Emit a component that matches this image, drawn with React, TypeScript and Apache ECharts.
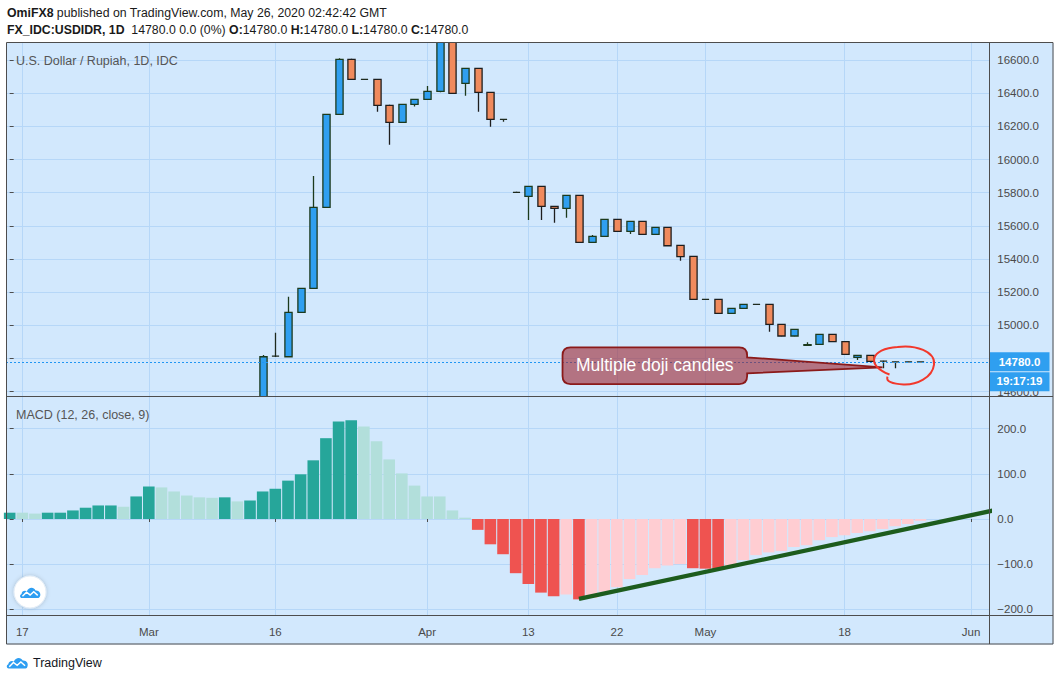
import React, { useEffect, useRef } from 'react';
import * as echarts from 'echarts';

// ---------- DATA ----------
const dates: string[] = [
  '2020-02-14', '2020-02-17', '2020-02-18', '2020-02-19', '2020-02-20', '2020-02-21',
  '2020-02-24', '2020-02-25', '2020-02-26', '2020-02-27', '2020-02-28',
  '2020-03-02', '2020-03-03', '2020-03-04', '2020-03-05', '2020-03-06',
  '2020-03-09', '2020-03-10', '2020-03-11', '2020-03-12', '2020-03-13',
  '2020-03-16', '2020-03-17', '2020-03-18', '2020-03-19', '2020-03-20',
  '2020-03-23', '2020-03-24', '2020-03-25', '2020-03-26', '2020-03-27',
  '2020-03-30', '2020-03-31', '2020-04-01', '2020-04-02', '2020-04-03',
  '2020-04-06', '2020-04-07', '2020-04-08', '2020-04-09', '2020-04-10',
  '2020-04-13', '2020-04-14', '2020-04-15', '2020-04-16', '2020-04-17',
  '2020-04-20', '2020-04-21', '2020-04-22', '2020-04-23', '2020-04-24',
  '2020-04-27', '2020-04-28', '2020-04-29', '2020-04-30', '2020-05-01',
  '2020-05-04', '2020-05-05', '2020-05-06', '2020-05-07', '2020-05-08',
  '2020-05-11', '2020-05-12', '2020-05-13', '2020-05-14', '2020-05-15',
  '2020-05-18', '2020-05-19', '2020-05-20', '2020-05-21', '2020-05-22',
  '2020-05-25', '2020-05-26', '2020-05-27', '2020-05-28', '2020-05-29',
  '2020-06-01', '2020-06-02',
];

const N = null;
// candles before 2020-03-13 lie below the visible price range
const opens: (number | null)[] = [
  N, N, N, N, N, N, N, N, N, N, N, N, N, N, N, N, N, N, N, N,
  14350, 14815, 14811, 15078, 15223, 15712, 16272, 16604, 16483, 16483,
  16327, 16224, 16333, 16363, 16411, 16850, 16459, 16550, 16405, 16242,
  15802, 15778, 15838, 15718, 15706, 15784, 15501, 15537, 15639, 15567,
  15627, 15549, 15591, 15482, 15416, 15157, 15157, 15072, 15103, 15127,
  15127, 15006, 14936, 14880, 14886, 14946, 14902, 14807, 14819, 14785,
  14780, 14780, 14780,
];
const closes: (number | null)[] = [
  N, N, N, N, N, N, N, N, N, N, N, N, N, N, N, N, N, N, N, N,
  14811, 14815, 15078, 15223, 15712, 16272, 16604, 16483, 16483, 16327,
  16224, 16333, 16363, 16411, 16850, 16399, 16550, 16405, 16242, 16242,
  15802, 15838, 15718, 15706, 15784, 15501, 15537, 15639, 15567, 15627,
  15549, 15591, 15480, 15414, 15157, 15157, 15072, 15103, 15127, 15127,
  15006, 14936, 14976, 14884, 14946, 14902, 14825, 14819, 14783, 14785,
  14780, 14780, 14780,
];
const highs: (number | null)[] = [
  N, N, N, N, N, N, N, N, N, N, N, N, N, N, N, N, N, N, N, N,
  14821, 14956, 15173, 15225, 15900, 16275, 16610, 16608, 16485, 16485,
  16330, 16335, 16365, 16443, 16900, 16900, 16552, 16552, 16407, 16245,
  15805, 15840, 15840, 15720, 15786, 15786, 15545, 15641, 15641, 15629,
  15629, 15593, 15593, 15484, 15418, 15158, 15158, 15104, 15128, 15128,
  15129, 15008, 14978, 14898, 14948, 14948, 14904, 14821, 14821, 14786,
  14781, 14781, 14780,
];
const lows: (number | null)[] = [
  N, N, N, N, N, N, N, N, N, N, N, N, N, N, N, N, N, N, N, N,
  14330, 14810, 14811, 15075, 15223, 15710, 16270, 16480, 16480, 16288,
  16089, 16222, 16319, 16360, 16405, 16395, 16385, 16288, 16198, 16228,
  15800, 15635, 15635, 15619, 15649, 15499, 15499, 15535, 15565, 15551,
  15547, 15547, 15478, 15390, 15155, 15156, 15070, 15070, 15102, 15126,
  14962, 14934, 14935, 14878, 14885, 14900, 14823, 14791, 14781, 14741,
  14741, 14779, 14780,
];

// MACD (12, 26, close, 9) histogram
const macdHist: number[] = [
  14, 14, 12, 14, 14, 19, 25, 30, 30, 27,
  50, 72, 70, 61, 52, 48, 47, 48, 39, 41,
  61, 67, 85, 99, 130, 179, 216, 219, 205, 172,
  132, 101, 74, 50, 50, 19, 3, -24, -56, -78,
  -120, -144, -163, -171, -167, -178, -175, -161, -151, -133,
  -124, -109, -103, -100, -109, -110, -111, -103, -91, -80,
  -74, -71, -62, -58, -47, -40, -36, -31, -27, -22,
  -16, -11, -4,
];
// D = rising above zero, L = falling above zero, R = falling below zero, P = rising below zero
const macdCodes = 'DLLDDDDDDLDDLLLLLDLDDDDDDDDDLLLLLLLLLRRRRRRRPRPPPPPPPPRRRPPPPPPPPPPPPPPPP';

const tickDates = ['2020-02-17', '2020-03-02', '2020-03-16', '2020-04-01', '2020-04-13', '2020-04-22', '2020-05-01', '2020-05-18', '2020-06-01'];
const tickLabels = ['17', 'Mar', '16', 'Apr', '13', '22', 'May', '18', 'Jun'];
const priceTicks = [14600, 14800, 15000, 15200, 15400, 15600, 15800, 16000, 16200, 16400, 16600];
const macdTicks = [-200, -100, 0, 100, 200];

const lastPrice = 14780;
const countdown = '19:17:19';
const trendStart = { date: '2020-04-17', value: -177 };
const trendEnd = { date: '2020-05-26', value: -15.5 };
const calloutTarget = { date: '2020-05-21', price: 14747 };
const dojiDates = ['2020-05-21', '2020-05-26'];
const dojiCirclePrice = 14758;

// ---------- STYLE ----------
const FONT = '"Liberation Sans", Arial, sans-serif';
const BG = '#d2e8fd';
const GRID_C = '#b6d7f8';
const FRAME = '#4d4d4d';
const AX_TXT = '#4a4a4a';
const UP = '#2f9ff0';
const DOWN = '#f08a5d';
const UP_BORDER = '#1c3a1c';
const DOWN_BORDER = '#1e1e1e';
const DOJI_BORDER = '#1e2a1e';
const histPalette: Record<string, string> = { D: '#26a69a', L: '#b2dfdb', R: '#ef5350', P: '#ffcdd2' };
const X_MIN = -0.29;
const X_MAX = 77.44;

echarts.graphic.registerShape(
  'tvCloud',
  echarts.graphic.extendPath('M3 14C0.5 14 0 10.5 2.5 9.5C2.5 6.5 6 5 8.5 6.5C10 2 16 1 18 5.5C22 5 24.5 9 23 12C22.5 13.5 21.5 14 20 14Z', {})
);
echarts.graphic.registerShape(
  'doodle',
  echarts.graphic.extendPath('M-12 9C-36 0 -31 -17 -4 -18.5C14 -21 34 -14 32.5 -1C31 12 15 19.5 2 19C-9 18.5 -16 16 -14 11', {})
);

function txt(x: number, y: number, text: string, o: any = {}) {
  return {
    type: 'text',
    x,
    y,
    z: o.z ?? 30,
    silent: true,
    style: {
      text,
      fill: o.fill ?? '#222',
      fontSize: o.fontSize ?? 12,
      fontFamily: FONT,
      fontWeight: o.fontWeight ?? 'normal',
      lineHeight: o.lineHeight,
      align: o.align ?? 'left',
      verticalAlign: 'middle',
      textAlign: o.align ?? 'left',
      textVerticalAlign: 'middle',
      rich: o.rich,
    },
  };
}

function renderCandle(params: any, api: any) {
  const x = api.value(0);
  const o = api.value(1);
  const c = api.value(2);
  const l = api.value(3);
  const h = api.value(4);
  const pO = api.coord([x, o]);
  const pC = api.coord([x, c]);
  const pL = api.coord([x, l]);
  const pH = api.coord([x, h]);
  const band = api.coord([x + 0.5, o])[0] - api.coord([x - 0.5, o])[0];
  const w = band * 0.57;
  const cx = Math.round(pO[0]) + 0.5;
  const up = c > o;
  const doji = c === o;
  const top = Math.min(pO[1], pC[1]);
  const bot = Math.max(pO[1], pC[1]);
  const stroke = doji ? DOJI_BORDER : up ? UP_BORDER : DOWN_BORDER;
  return {
    type: 'group',
    children: [
      { type: 'line', shape: { x1: cx, y1: pH[1], x2: cx, y2: top }, style: { stroke, lineWidth: 1.3 } },
      { type: 'line', shape: { x1: cx, y1: bot, x2: cx, y2: pL[1] }, style: { stroke, lineWidth: 1.3 } },
      {
        type: 'rect',
        shape: { x: cx - w / 2, y: top, width: w, height: bot - top },
        style: { fill: up ? UP : DOWN, stroke, lineWidth: 1.3 },
      },
    ],
  };
}

export default function App() {
  const ref = useRef<HTMLDivElement>(null);

  useEffect(() => {
    const chart = echarts.init(ref.current!, null, { renderer: 'svg' });
    const idxOf = (d: string) => dates.indexOf(d);
    const tickIdx = tickDates.map(idxOf);
    const labelMap: Record<number, string> = {};
    tickIdx.forEach((i, k) => (labelMap[i] = tickLabels[k]));
    // price labels hidden behind the last-price tag are not drawn (as on the platform)
    const priceLabelTicks = priceTicks.filter((v) => Math.abs(v - lastPrice) > 60);

    const candleData: number[][] = [];
    opens.forEach((o, i) => {
      if (o != null) candleData.push([i, o, closes[i] as number, lows[i] as number, highs[i] as number]);
    });
    const histData = macdHist.map((v, i) => ({ value: [i, v], itemStyle: { color: histPalette[macdCodes[i]] } }));
    const t0 = [idxOf(trendStart.date), trendStart.value];
    const t1 = [idxOf(trendEnd.date), trendEnd.value];
    const slope = (t1[1] - t0[1]) / (t1[0] - t0[0]);
    const tx = X_MAX + 1;
    const trendData = [t0, [tx, t0[1] + slope * (tx - t0[0])]];

    const xAxisBase = (gridIndex: number, showLabels: boolean) => ({
      type: 'value',
      gridIndex,
      min: X_MIN,
      max: X_MAX,
      axisLine: { show: false },
      axisTick: { show: showLabels, length: 3, customValues: tickIdx, lineStyle: { color: FRAME } },
      axisLabel: {
        show: showLabels,
        customValues: tickIdx,
        formatter: (v: number) => labelMap[Math.round(v)] ?? '',
        color: AX_TXT,
        fontSize: 11.5,
        fontFamily: FONT,
        margin: 11,
      },
      splitLine: { show: true, lineStyle: { color: GRID_C, width: 1 } },
    });

    chart.setOption({
      animation: false,
      textStyle: { fontFamily: FONT },
      grid: [
        { left: 6, top: 43, width: 983.3, height: 353.7, outerBoundsMode: 'none', containLabel: false },
        { left: 6, top: 396.7, width: 983.3, height: 218.3, outerBoundsMode: 'none', containLabel: false },
      ],
      xAxis: [xAxisBase(0, false), xAxisBase(1, true)],
      yAxis: [
        {
          type: 'value',
          gridIndex: 0,
          position: 'right',
          min: 14570,
          max: 16702.5,
          axisLine: { show: false },
          axisTick: { show: true, length: 4, customValues: priceTicks, lineStyle: { color: FRAME } },
          axisLabel: {
            customValues: priceLabelTicks,
            formatter: (v: number) => v.toFixed(1),
            color: AX_TXT,
            fontSize: 11.5,
            lineHeight: 10,
            fontFamily: FONT,
            margin: 8,
          },
          splitLine: { show: true, lineStyle: { color: GRID_C, width: 1 } },
        },
        {
          type: 'value',
          gridIndex: 1,
          position: 'right',
          min: -212.6,
          max: 270.9,
          axisLine: { show: false },
          axisTick: { show: true, length: 4, customValues: macdTicks, lineStyle: { color: FRAME } },
          axisLabel: {
            customValues: macdTicks,
            formatter: (v: number) => (v < 0 ? '\u2212' + Math.abs(v).toFixed(1) : v.toFixed(1)),
            color: AX_TXT,
            fontSize: 11.5,
            fontFamily: FONT,
            margin: 8,
          },
          splitLine: { show: true, lineStyle: { color: GRID_C, width: 1 } },
        },
      ],
      series: [
        {
          type: 'custom',
          name: 'USD/IDR',
          xAxisIndex: 0,
          yAxisIndex: 0,
          data: candleData,
          encode: { x: 0, y: [1, 2, 3, 4] },
          renderItem: renderCandle,
          clip: true,
          z: 3,
        },
        {
          type: 'line',
          xAxisIndex: 0,
          yAxisIndex: 0,
          data: [],
          symbol: 'none',
          z: 4,
          markLine: {
            silent: true,
            animation: false,
            symbol: ['none', 'none'],
            data: [{ yAxis: lastPrice }],
            lineStyle: { color: '#2196f3', type: [2, 2], width: 1 },
            label: { show: false },
          },
        },
        {
          type: 'bar',
          xAxisIndex: 1,
          yAxisIndex: 1,
          data: histData,
          barWidth: 11.6,
          clip: true,
        },
        {
          type: 'line',
          xAxisIndex: 1,
          yAxisIndex: 1,
          data: trendData,
          symbol: 'none',
          clip: true,
          z: 5,
          lineStyle: { color: '#1d5c1d', width: 4.2, cap: 'butt' },
        },
      ],
    });

    const py = (chart.convertToPixel({ gridIndex: 0 }, [0, lastPrice]) as number[])[1];
    const tip = chart.convertToPixel({ gridIndex: 0 }, [idxOf(calloutTarget.date), calloutTarget.price]) as number[];
    const dc = chart.convertToPixel(
      { gridIndex: 0 },
      [(idxOf(dojiDates[0]) + idxOf(dojiDates[1])) / 2, dojiCirclePrice]
    ) as number[];

    const L = tip[0] - 320, R = tip[0] - 135.4, T = tip[1] - 20, B = tip[1] + 16.7, r = 8;
    const pT = tip[1] - 10, pB = tip[1] + 6;
    const d = `M${L + r} ${T}H${R - r}Q${R} ${T} ${R} ${T + r}V${pT}L${tip[0]} ${tip[1]}L${R} ${pB}V${B - r}Q${R} ${B} ${R - r} ${B}H${L + r}Q${L} ${B} ${L} ${B - r}V${T + r}Q${L} ${T} ${L + r} ${T}Z`;
    echarts.graphic.registerShape('calloutBox', echarts.graphic.extendPath(d, {}));

    const cloud = (x: number, y: number, s: number, z: number) => ({
      type: 'group',
      x,
      y,
      scaleX: s,
      scaleY: s,
      z,
      silent: true,
      children: [
        { type: 'tvCloud', z, style: { fill: '#2d9ef2' } },
        {
          type: 'polyline',
          z: z + 1,
          shape: { points: [[3.5, 12], [8, 7.5], [12, 10.5], [16, 7], [20.5, 11]] },
          style: { stroke: '#fff', lineWidth: 1.6, fill: 'none' },
        },
      ],
    });

    chart.setOption({
      graphic: {
        elements: [
          { type: 'rect', z: -10, silent: true, shape: { x: 6, y: 43, width: 1047.5, height: 601.5 }, style: { fill: BG } },
          // header
          txt(7, 13, '{b|OmiFX8} published on TradingView.com, May 26, 2020 02:42:42 GMT', {
            fontSize: 12.3,
            fill: '#1a1a1a',
            rich: { b: { fontWeight: 'bold', fontSize: 12.3, fontFamily: FONT, fill: '#1a1a1a' } },
          }),
          txt(7, 30, '{b|FX_IDC:USDIDR, 1D}  14780.0 0.0 (0%) {b|O:}14780.0 {b|H:}14780.0 {b|L:}14780.0 {b|C:}14780.0', {
            fontSize: 12.3,
            fill: '#1a1a1a',
            rich: { b: { fontWeight: 'bold', fontSize: 12.3, fontFamily: FONT, fill: '#1a1a1a' } },
          }),
          // pane titles
          txt(16, 61, 'U.S. Dollar / Rupiah, 1D, IDC', { fontSize: 12.5, fill: '#555' }),
          txt(16, 415, 'MACD (12, 26, close, 9)', { fontSize: 12.5, fill: '#555' }),
          // cover label overflow at pane boundary
          { type: 'rect', z: 14, silent: true, shape: { x: 990, y: 397, width: 63, height: 5 }, style: { fill: BG } },
          // separators & frame
          { type: 'line', z: 20, silent: true, shape: { x1: 989.5, y1: 43, x2: 989.5, y2: 644 }, style: { stroke: FRAME, lineWidth: 1 } },
          { type: 'line', z: 20, silent: true, shape: { x1: 6, y1: 396.5, x2: 1053, y2: 396.5 }, style: { stroke: FRAME, lineWidth: 1 } },
          { type: 'line', z: 20, silent: true, shape: { x1: 6, y1: 615.5, x2: 1053, y2: 615.5 }, style: { stroke: FRAME, lineWidth: 1 } },
          { type: 'rect', z: 20, silent: true, shape: { x: 6.5, y: 42.5, width: 1046.5, height: 601.5 }, style: { fill: 'none', stroke: FRAME, lineWidth: 1 } },
          // last price & countdown tags
          { type: 'rect', z: 16, silent: true, shape: { x: 989.5, y: py - 9.6, width: 60, height: 19 }, style: { fill: UP } },
          txt(1019.5, py, lastPrice.toFixed(1), { fontSize: 11.5, fontWeight: 'bold', fill: '#fff', align: 'center', z: 17 }),
          { type: 'rect', z: 16, silent: true, shape: { x: 989.5, y: py + 10.4, width: 60, height: 19 }, style: { fill: UP } },
          txt(1019.5, py + 19.5, countdown, { fontSize: 11.5, lineHeight: 10, fontWeight: 'bold', fill: '#fff', align: 'center', z: 17 }),
          // callout
          {
            type: 'calloutBox',
            z: 18,
            silent: true,
            style: { fill: 'rgba(158,36,48,0.6)', stroke: '#8b1a1a', lineWidth: 1.8 },
          },
          txt((L + R) / 2, (T + B) / 2 - 1, 'Multiple doji candles', { fontSize: 17.5, fill: '#ffffff', align: 'center', z: 19 }),
          // hand-drawn circle around doji candles
          {
            type: 'doodle',
            x: dc[0],
            y: dc[1],
            z: 18,
            silent: true,
            style: { fill: 'none', stroke: '#f2382c', lineWidth: 2 },
          },
          // TradingView badge in pane
          {
            type: 'circle',
            z: 16,
            silent: true,
            shape: { cx: 30, cy: 592, r: 16 },
            style: { fill: '#ffffff', shadowBlur: 4, shadowColor: 'rgba(0,0,0,0.18)', stroke: '#e6eef6', lineWidth: 1 },
          },
          cloud(19.3, 585.5, 0.9, 17),
          // bottom logo
          cloud(6, 655.5, 0.93, 17),
          txt(33, 663, 'TradingView', { fontSize: 12.5, fill: '#131722' }),
        ],
      },
    });

    return () => chart.dispose();
  }, []);

  return (
    <div
      ref={ref}
      style={{ position: 'absolute', left: 0, top: 0, width: 1060, height: 681, background: '#ffffff' }}
    />
  );
}
